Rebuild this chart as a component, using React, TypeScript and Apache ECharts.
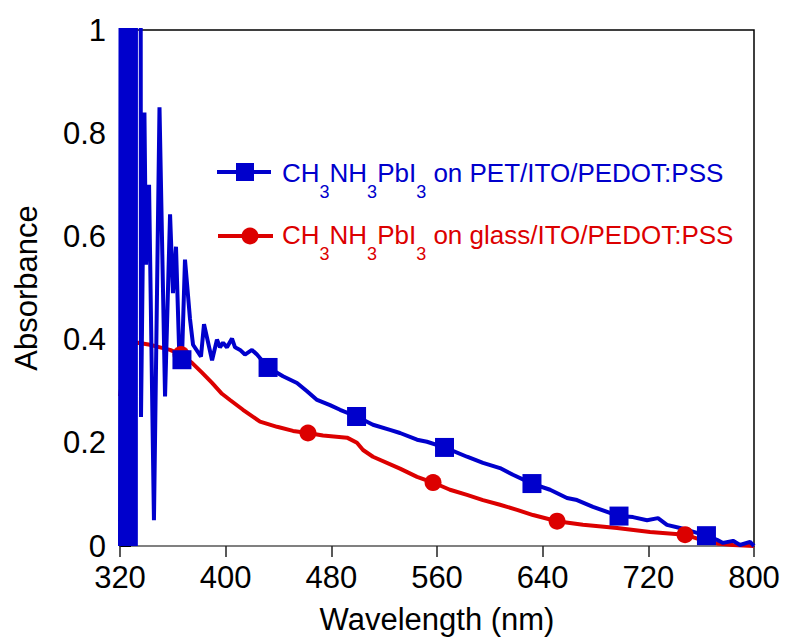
import React, { useEffect, useRef } from "react";
import * as echarts from "echarts";

const BLUE = "#0000cc";
const RED = "#dc0000";
const FONT = "'Liberation Sans', Arial, sans-serif";

const xTicks = [320, 400, 480, 560, 640, 720, 800];
const yTicks = [0, 0.2, 0.4, 0.6, 0.8, 1];

// CH3NH3PbI3 on PET/ITO/PEDOT:PSS
const blueWl = [
  320, 320.5, 321, 321.5, 322, 322.5, 323, 323.5, 324, 324.5, 325, 325.5, 326,
  326.5, 327, 327.5, 328, 328.5, 329, 329.5, 330, 330.5, 331, 331.5, 332, 332.1,
  335.6, 335.9, 338.5, 339.7, 342.0, 345.7, 349.9, 354.1, 357.9, 360.1, 362.4,
  364.7, 366.9, 369.2, 373.0, 375.3, 381.3, 383.6, 389.7, 393.4, 395.7, 398.0,
  401.0, 404.8, 407.1, 410.9, 414.6, 419.9, 423.7, 432.1, 443.4, 454.0, 461.6,
  469.2, 479.0, 486.6, 499.1, 511.5, 524.4, 532.0, 544.9, 552.4, 565.7, 582.7,
  594.8, 607.7, 617.5, 631.9, 645.6, 658.4, 666.0, 678.1, 697.8, 708.4, 719.0,
  727.3, 734.1, 744.0, 764.0, 772.0, 776.5, 784.1, 789.4, 797.0, 800,
];
const blueAbs = [
  0, 1.3, 0, 1.3, 0, 1.3, 0, 1.3, 0, 1.3, 0, 1.3, 0,
  1.3, 0, 1.3, 0, 1.3, 0, 1.3, 0, 1.3, 0, 1.3, 0, 1.3,
  1.3, 0.25, 0.84, 0.545, 0.70, 0.05, 0.85, 0.29, 0.643, 0.49, 0.58,
  0.386, 0.361, 0.555, 0.44, 0.39, 0.367, 0.43, 0.36, 0.40, 0.385, 0.394,
  0.385, 0.402, 0.385, 0.38, 0.371, 0.38, 0.371, 0.346, 0.329, 0.316, 0.30,
  0.283, 0.273, 0.264, 0.251, 0.235, 0.225, 0.219, 0.206, 0.202, 0.191, 0.173,
  0.161, 0.151, 0.138, 0.121, 0.109, 0.093, 0.089, 0.076, 0.058, 0.056, 0.05,
  0.054, 0.041, 0.035, 0.02, 0.012, 0.006, 0.01, 0.002, 0.008, 0.0,
];
const blueMarkWl = [366.9, 432.1, 499.1, 565.7, 631.9, 697.8, 764.0];
const blueMarkAbs = [0.361, 0.346, 0.251, 0.191, 0.121, 0.058, 0.02];

// CH3NH3PbI3 on glass/ITO/PEDOT:PSS
const redWl = [
  320, 322, 325, 328, 333.6, 342.7, 350.3, 357.9, 366.2, 374.5, 382.1, 389.7,
  397.2, 403.3, 413.1, 426.0, 438.9, 451.0, 462.3, 473.7, 491.9, 499.4, 504.0,
  511.5, 532.0, 544.9, 557.0, 569.8, 582.7, 594.8, 607.7, 620.6, 632.7, 650.9,
  670.5, 696.3, 721.3, 747.8, 760, 772.0, 784.1, 800,
];
const redAbs = [
  0.29, 0.33, 0.37, 0.39, 0.394, 0.39, 0.385, 0.38, 0.371, 0.355, 0.336, 0.316,
  0.295, 0.283, 0.264, 0.241, 0.231, 0.223, 0.219, 0.214, 0.21, 0.2, 0.186,
  0.173, 0.15, 0.134, 0.123, 0.109, 0.099, 0.089, 0.08, 0.07, 0.06, 0.048,
  0.041, 0.035, 0.027, 0.022, 0.012, 0.005, 0.002, 0,
];
const redMarkWl = [366.2, 462.3, 557.0, 650.9, 747.8];
const redMarkAbs = [0.371, 0.219, 0.123, 0.048, 0.022];

const legendBlue = "{m|CH}{s|3}{m|NH}{s|3}{m|PbI}{s|3}{m| on PET/ITO/PEDOT:PSS}";
const legendRed = "{m|CH}{s|3}{m|NH}{s|3}{m|PbI}{s|3}{m| on glass/ITO/PEDOT:PSS}";

const zip = (a: number[], b: number[]) => a.map((v, i) => [v, b[i]]);

export default function App() {
  const ref = useRef<HTMLDivElement>(null);
  useEffect(() => {
    const chart = echarts.init(ref.current!, null, { renderer: "svg" });
    const rich = {
      m: { fontSize: 26, fontFamily: FONT },
      s: { fontSize: 18, fontFamily: FONT, padding: [38, 0, 0, 0] },
    };
    chart.setOption({
      animation: false,
      backgroundColor: "#fff",
      textStyle: { fontFamily: FONT },
      grid: {
        left: 120,
        right: 33,
        top: 30,
        bottom: 96,
        show: true,
        borderColor: "#000",
        borderWidth: 1.5,
        backgroundColor: "transparent",
      },
      xAxis: {
        type: "value",
        min: xTicks[0],
        max: xTicks[xTicks.length - 1],
        interval: 80,
        name: "Wavelength (nm)",
        nameLocation: "middle",
        nameGap: 58,
        nameTextStyle: { fontSize: 31, color: "#000", fontFamily: FONT },
        axisLine: { lineStyle: { color: "#808080", width: 2 } },
        axisTick: { show: true, inside: false, length: 11, lineStyle: { color: "#222", width: 1.5 } },
        axisLabel: { fontSize: 31, color: "#000", margin: 16, fontFamily: FONT },
        splitLine: { show: false },
      },
      yAxis: {
        type: "value",
        min: yTicks[0],
        max: yTicks[yTicks.length - 1],
        interval: 0.2,
        name: "Absorbance",
        nameLocation: "middle",
        nameGap: 78,
        nameTextStyle: { fontSize: 31, color: "#000", fontFamily: FONT },
        axisLine: { lineStyle: { color: "#555", width: 2 } },
        axisTick: { show: true, inside: true, length: 11, lineStyle: { color: "#000", width: 2 } },
        axisLabel: { fontSize: 31, color: "#000", margin: 14, fontFamily: FONT },
        splitLine: { show: false },
      },
      series: [
        {
          type: "line",
          name: "glass",
          data: zip(redWl, redAbs),
          showSymbol: false,
          symbol: "none",
          lineStyle: { color: RED, width: 4 },
          z: 2,
        },
        {
          type: "line",
          name: "PET",
          data: zip(blueWl, blueAbs),
          showSymbol: false,
          symbol: "none",
          lineStyle: { color: BLUE, width: 4 },
          z: 3,
        },
        {
          type: "scatter",
          data: zip(redMarkWl, redMarkAbs),
          symbol: "circle",
          symbolSize: 17,
          itemStyle: { color: RED, opacity: 1 },
          z: 4,
        },
        {
          type: "scatter",
          data: zip(blueMarkWl, blueMarkAbs),
          symbol: "rect",
          symbolSize: 19,
          itemStyle: { color: BLUE, opacity: 1 },
          z: 5,
        },
      ],
      graphic: [
        { type: "line", shape: { x1: 217, y1: 172, x2: 271, y2: 172 }, style: { stroke: BLUE, lineWidth: 4 } },
        { type: "rect", shape: { x: 236, y: 163, width: 18, height: 18 }, style: { fill: BLUE } },
        {
          type: "text",
          x: 282,
          y: 172.5,
          style: { text: legendBlue, rich, fill: BLUE, verticalAlign: "middle", fontSize: 26, fontFamily: FONT },
        },
        { type: "line", shape: { x1: 218, y1: 236, x2: 273, y2: 236 }, style: { stroke: RED, lineWidth: 4 } },
        { type: "circle", shape: { cx: 250, cy: 236, r: 8.5 }, style: { fill: RED } },
        {
          type: "text",
          x: 282,
          y: 235,
          style: { text: legendRed, rich, fill: RED, verticalAlign: "middle", fontSize: 26, fontFamily: FONT },
        },
      ],
    });
    return () => chart.dispose();
  }, []);
  return <div ref={ref} style={{ position: "fixed", left: 0, top: 0, width: 787, height: 642 }} />;
}
